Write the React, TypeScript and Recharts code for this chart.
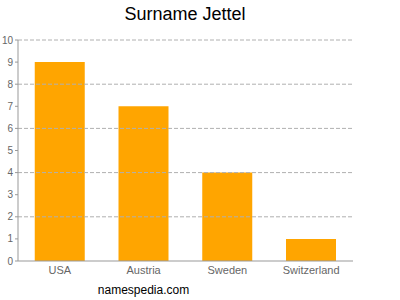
import React from "react";
import { BarChart, Bar, XAxis, YAxis, ReferenceLine } from "recharts";

const countries = ["USA", "Austria", "Sweden", "Switzerland"];
const counts = [9, 7, 4, 1];
const yTicks = [0, 1, 2, 3, 4, 5, 6, 7, 8, 9, 10];
const gridValues = [2, 4, 6, 8, 10];
const title = "Surname Jettel";
const footer = "namespedia.com";

const data = countries.map((c, i) => ({ country: c, count: counts[i] }));

export default function App() {
  return (
    <div style={{ position: "absolute", left: 0, top: 0, width: 400, height: 300, background: "#fff", fontFamily: "'Liberation Sans', Arial, sans-serif" }}>
      <div style={{ position: "absolute", left: 0, width: 370, top: 4, textAlign: "center", fontSize: 18, color: "#000", lineHeight: "20px" }}>{title}</div>
      <BarChart width={400} height={300} data={data} margin={{ top: 40, right: 47, bottom: 14, left: 0 }} barCategoryGap="20%">
        {gridValues.map((v) => (
          <ReferenceLine key={v} y={v} stroke="#b0b0b0" strokeDasharray="4 2" />
        ))}
        <XAxis dataKey="country" height={25} tickLine={false} tickSize={3} axisLine={{ stroke: "#999" }} tick={{ fill: "#666", fontSize: 11 }} interval={0} />
        <YAxis width={18} domain={[0, 10]} ticks={yTicks} interval={0} tickSize={3} axisLine={{ stroke: "#999" }} tickLine={{ stroke: "#999" }} tick={{ fill: "#666", fontSize: 10 }} />
        <Bar dataKey="count" fill="#FFA500" isAnimationActive={false} />
      </BarChart>
      <div style={{ position: "absolute", left: 0, width: 287, top: 283, textAlign: "center", fontSize: 12, color: "#000", lineHeight: "14px" }}>{footer}</div>
    </div>
  );
}
